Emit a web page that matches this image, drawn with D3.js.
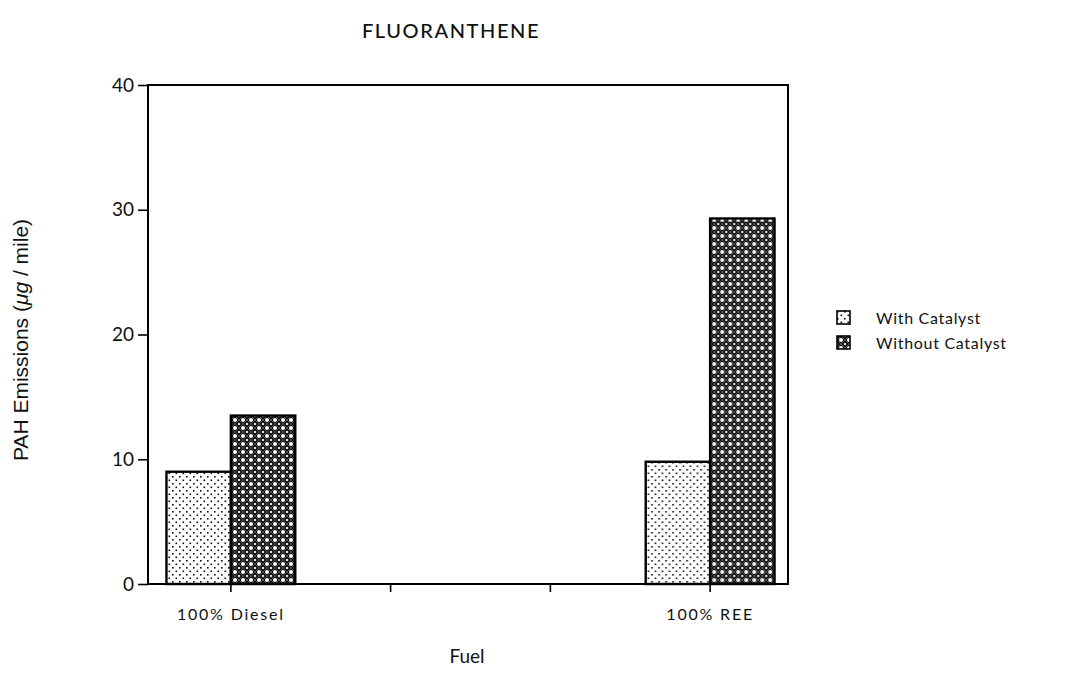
<!DOCTYPE html>
<html>
<head>
<meta charset="utf-8">
<script src="https://cdn.jsdelivr.net/npm/d3@7"></script>
<style>
  body { margin: 0; background: #fff; }
  svg { display: block; }
  text { fill: #111; }
</style>
</head>
<body>
<svg id="chart" width="1083" height="697"></svg>
<script>
// chart data
var fuelKeys = ["diesel", "blend1", "blend2", "ree"];
var fuelLabels = ["100% Diesel", "", "", "100% REE"];
var seriesNames = ["With Catalyst", "Without Catalyst"];
var withCatalyst = [9.0, null, null, 9.8];
var withoutCatalyst = [13.5, null, null, 29.3];
var yTicks = [0, 10, 20, 30, 40];

var svg = d3.select("#chart");
var humanist = "Lato, 'Open Sans', sans-serif";

// patterns for the two series
var defs = svg.append("defs");
var dots = defs.append("pattern")
	.attr("id", "dots").attr("patternUnits", "userSpaceOnUse")
	.attr("width", 7).attr("height", 7);
dots.append("rect").attr("width", 7).attr("height", 7).attr("fill", "#fff");
dots.append("rect").attr("x", 0).attr("y", 0).attr("width", 1.6).attr("height", 1.6).attr("fill", "#111");
dots.append("rect").attr("x", 3.5).attr("y", 3.5).attr("width", 1.6).attr("height", 1.6).attr("fill", "#111");

var hatch = defs.append("pattern")
	.attr("id", "hatch").attr("patternUnits", "userSpaceOnUse")
	.attr("width", 8).attr("height", 8);
hatch.append("rect").attr("width", 8).attr("height", 8).attr("fill", "#050505");
hatch.append("path").attr("d", "M0,4 L4,0 L8,4 L4,8 Z")
	.attr("fill", "none").attr("stroke", "#777").attr("stroke-width", 0.7);
hatch.append("circle").attr("cx", 4).attr("cy", 4).attr("r", 2).attr("fill", "#fff");
[[0,0],[8,0],[0,8],[8,8]].forEach(function(p){
	hatch.append("circle").attr("cx", p[0]).attr("cy", p[1]).attr("r", 1.3).attr("fill", "#ddd");
});

var fills = ["url(#dots)", "url(#hatch)"];

// plot box
var plotLeft = 148, plotRight = 788, plotTop = 85, plotBottom = 584;

// scales
var x0 = d3.scaleBand().domain(fuelKeys).range([plotLeft + 3, plotRight + 2]).padding(0);
var x1 = d3.scaleBand().domain(seriesNames).range([0, x0.bandwidth()])
	.paddingInner(0).paddingOuter(0.24);
var y = d3.scaleLinear().domain([0, 40]).range([plotBottom, plotTop]);

// bars
var rows = fuelKeys.map(function(k, i){
	return { key: k, values: [withCatalyst[i], withoutCatalyst[i]] };
});

var groups = svg.append("g").selectAll("g")
	.data(rows).enter().append("g")
	.attr("transform", function(d){ return "translate(" + x0(d.key) + ",0)"; });

groups.selectAll("rect")
	.data(function(d){
		return d.values.map(function(v, j){ return { s: seriesNames[j], v: v, j: j }; })
			.filter(function(e){ return e.v != null; });
	})
	.enter().append("rect")
	.attr("x", function(d){ return x1(d.s); })
	.attr("y", function(d){ return y(d.v); })
	.attr("width", x1.bandwidth())
	.attr("height", function(d){ return y(0) - y(d.v); })
	.attr("fill", function(d){ return fills[d.j]; })
	.attr("stroke", "#000")
	.attr("stroke-width", 2.4);

// frame
svg.append("rect")
	.attr("x", plotLeft).attr("y", plotTop)
	.attr("width", plotRight - plotLeft).attr("height", plotBottom - plotTop)
	.attr("fill", "none").attr("stroke", "#000").attr("stroke-width", 2);

// y axis
var yAxis = svg.append("g")
	.attr("transform", "translate(" + plotLeft + ",0)")
	.call(d3.axisLeft(y).tickValues(yTicks).tickSize(10).tickPadding(4));
yAxis.select(".domain").remove();
yAxis.selectAll("line").attr("stroke", "#000").attr("stroke-width", 1.6);
yAxis.selectAll("text").attr("font-family", humanist).attr("font-size", 19).attr("fill", "#111");

// x axis
var xAxis = svg.append("g")
	.attr("transform", "translate(0," + plotBottom + ")")
	.call(d3.axisBottom(x0).tickSize(8).tickPadding(17)
		.tickFormat(function(d, i){ return fuelLabels[i]; }));
xAxis.select(".domain").remove();
xAxis.selectAll("line").attr("stroke", "#000").attr("stroke-width", 1.6);
xAxis.selectAll("text").attr("font-family", humanist).attr("font-size", 16)
	.attr("letter-spacing", 1.8).attr("fill", "#111");

// titles
svg.append("text")
	.attr("x", 451).attr("y", 38)
	.attr("text-anchor", "middle")
	.attr("font-family", humanist).attr("font-size", 20)
	.attr("font-weight", 500)
	.attr("letter-spacing", 1.6)
	.text("FLUORANTHENE");

svg.append("text")
	.attr("x", 467).attr("y", 663)
	.attr("text-anchor", "middle")
	.attr("font-family", humanist).attr("font-size", 19)
	.text("Fuel");

var ylab = svg.append("text")
	.attr("transform", "translate(28,340) rotate(-90)")
	.attr("text-anchor", "middle")
	.attr("font-family", "'Liberation Sans', Arial, sans-serif").attr("font-size", 21);
ylab.append("tspan").text("PAH Emissions (");
ylab.append("tspan").attr("font-style", "italic").text("μg");
ylab.append("tspan").text(" / mile)");

// legend
var legend = svg.append("g").selectAll("g")
	.data(seriesNames).enter().append("g")
	.attr("transform", function(d, i){ return "translate(837," + (311 + i * 25) + ")"; });
legend.append("rect")
	.attr("width", 13).attr("height", 13)
	.attr("fill", function(d, i){ return fills[i]; })
	.attr("stroke", "#000").attr("stroke-width", 1.6);
legend.append("text")
	.attr("x", 39).attr("y", 13)
	.attr("font-family", humanist).attr("font-size", 16)
	.attr("letter-spacing", 0.7)
	.text(function(d){ return d; });
</script>
</body>
</html>
